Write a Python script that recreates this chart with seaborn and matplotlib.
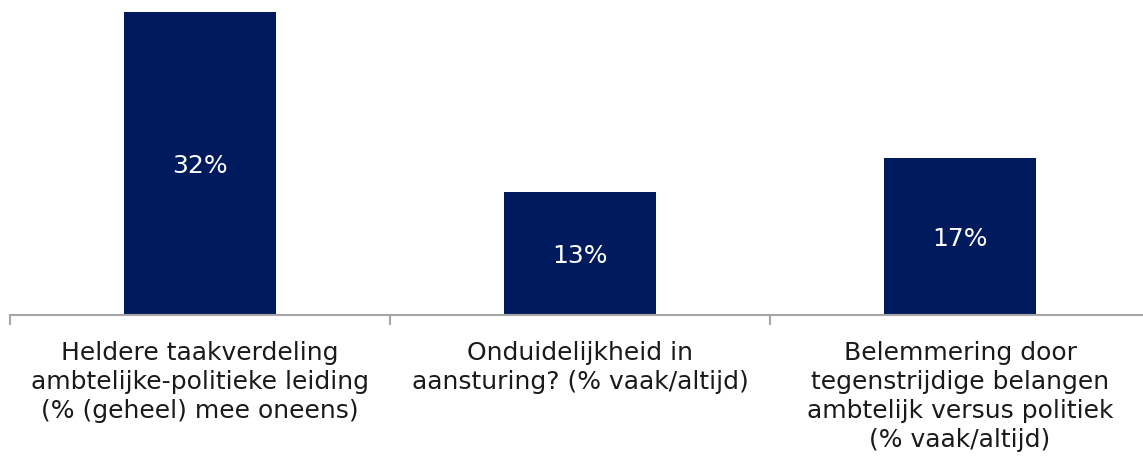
import matplotlib
matplotlib.use("Agg")
import matplotlib.pyplot as plt
import seaborn as sns
import pandas as pd

categories = [
    "Heldere taakverdeling\nambtelijke-politieke leiding\n(% (geheel) mee oneens)",
    "Onduidelijkheid in\naansturing? (% vaak/altijd)",
    "Belemmering door\ntegenstrijdige belangen\nambtelijk versus politiek\n(% vaak/altijd)",
]
values = [32, 13, 16.6]
value_labels = ["32%", "13%", "17%"]

sns.set_theme(style="white")
plt.rcParams['font.family'] = ['DejaVu Sans']

W, H = 1143, 462
fig = plt.figure(figsize=(W / 100, H / 100), dpi=100)
# axes spans x 10..1150 px, baseline at y=315, top such that 32 maps to y=12
x0, x1 = 10, 1150
ybase, ytop_px = 315, 12
ymax = 33.0
px_per = (ybase - ytop_px) / 32.0
top_px = ybase - ymax * px_per
ax = fig.add_axes([x0 / W, (H - ybase) / H, (x1 - x0) / W, (ybase - top_px) / H])

df = pd.DataFrame({"cat": categories, "val": values})
sns.barplot(data=df, x="cat", y="val", color="#001A5E", width=0.4, ax=ax,
            saturation=1, edgecolor="none")

ax.set_xlim(-0.5, 2.5)
ax.set_ylim(0, ymax)
ax.set_xlabel("")
ax.set_ylabel("")
ax.set_yticks([])
for s in ["top", "right", "left"]:
    ax.spines[s].set_visible(False)
ax.spines["bottom"].set_color("#A6A6A6")
ax.spines["bottom"].set_linewidth(1.5)

ax.set_xticks([-0.5, 0.5, 1.5, 2.5])
ax.set_xticklabels([])
ax.tick_params(axis="x", which="major", length=7, width=1.5, color="#A6A6A6",
               direction="out", bottom=True)
ax.set_xticks([0, 1, 2], minor=True)
ax.set_xticklabels(categories, minor=True, fontsize=18, color="#1A1A1A",
                   linespacing=1.26)
ax.tick_params(axis="x", which="minor", length=0, pad=19)

for i, (v, lab) in enumerate(zip(values, value_labels)):
    ax.text(i, v / 2 - 0.3, lab, ha="center", va="center", color="white",
            fontsize=18)

fig.savefig("out.png", dpi=100)
